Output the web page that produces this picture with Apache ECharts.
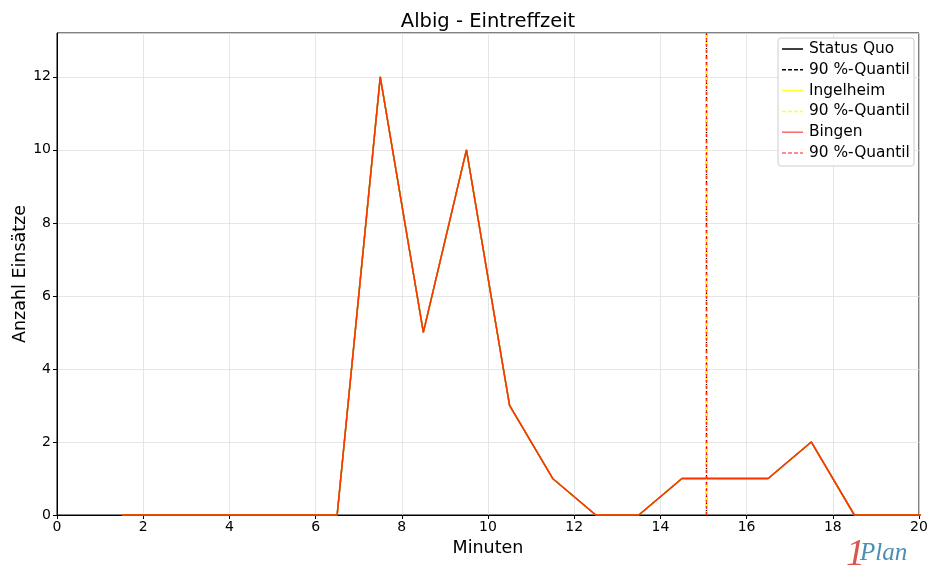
<!DOCTYPE html>
<html><head><meta charset="utf-8">
<script src="https://cdn.jsdelivr.net/npm/echarts@6/dist/echarts.min.js"></script>
<style>html,body{margin:0;padding:0;background:#fff}#c{width:930px;height:583px}</style>
</head><body><div id="c"></div>
<script>
const minutes = [1.5,2.5,3.5,4.5,5.5,6.5,7.5,8.5,9.5,10.5,11.5,12.5,13.5,14.5,15.5,16.5,17.5,18.5,19.5,20.5];
const statusQuo = [0,0,0,0,0,0,12,5,10,3,1,0,0,1,1,1,2,0,0,0];
const ingelheim = [0,0,0,0,0,0,12,5,10,3,1,0,0,1,1,1,2,0,0,0];
const bingen    = [0,0,0,0,0,0,12,5,10,3,1,0,0,1,1,1,2,0,0,0];
const quantileSQ = 15.07, quantileIng = 15.07, quantileBin = 15.07;
const legendLabels = ['Status Quo','90 %-Quantil','Ingelheim','90 %-Quantil','Bingen','90 %-Quantil'];

const font = 'DejaVu Sans';
const chart = echarts.init(document.getElementById('c'));
const pair = (xs, ys) => xs.map((x,i)=>[x, ys[i]]);
function mk(name, ys, color, q, op, dash){
  return {
    name, type:'line', data: pair(minutes, ys), symbol:'none', clip:true,
    lineStyle:{color, width:1.5, opacity:op}, z: 3,
    markLine:{symbol:'none', silent:true, label:{show:false},
      lineStyle:{color, type:dash, width:1.3, opacity:op},
      data:[{xAxis:q}]}
  };
}
const legendColors = [['#000',0],['#000',1],['#ffff33',0],['#ffff33',1],['#ff6666',0],['#ff6666',1]];
const graphics = [
  {type:'rect', shape:{x:778,y:38,width:136,height:128,r:3}, style:{fill:'rgba(255,255,255,0.85)',stroke:'#ccc',lineWidth:1}, z:10},
  {type:'text', x:488, y:22, style:{text:'Albig - Eintreffzeit', font:'19.5px "'+font+'"', fill:'#000', textAlign:'center', textVerticalAlign:'middle'}, z:11}
];
legendLabels.forEach((t,i)=>{
  const y = 49 + i*20.8;
  graphics.push({type:'line', shape:{x1:782,y1:y,x2:803,y2:y}, style:{stroke:legendColors[i][0], lineWidth:1.5, lineDash: legendColors[i][1]?[4,2]:null}, z:11});
  graphics.push({type:'text', x:809, y:y, style:{text:t, font:'15.4px "'+font+'"', fill:'#000', textVerticalAlign:'middle'}, z:11});
});
graphics.push({type:'text', x:846, y:536, style:{text:'1', font:'italic 38px "Liberation Serif"', fill:'#d9574a'}, z:11});
graphics.push({type:'text', x:860, y:541, style:{text:'Plan', font:'italic 25px "Liberation Serif"', fill:'#4a8fb5'}, z:11});

chart.setOption({
  animation:false,
  grid:{left:57, right:11, top:33, bottom:68, show:true, borderColor:'#000', borderWidth:1, containLabel:false, outerBoundsMode:'none'},
  xAxis:{type:'value', min:0, max:20, interval:2, name:'Minuten', nameLocation:'middle', nameGap:24, nameMoveOverlap:false,
    nameTextStyle:{fontFamily:font, fontSize:17.5, color:'#000'},
    axisLine:{show:true, lineStyle:{color:'#000'}}, axisTick:{show:true, length:4, lineStyle:{color:'#000'}},
    axisLabel:{fontFamily:font, fontSize:14, color:'#000', margin:5},
    splitLine:{show:true, lineStyle:{color:'#e0e0e0', width:0.8}}},
  yAxis:{type:'value', min:0, max:13.2, interval:2, name:'Anzahl Einsätze', nameLocation:'middle', nameGap:28, nameMoveOverlap:false,
    nameTextStyle:{fontFamily:font, fontSize:17.5, color:'#000'},
    axisLine:{show:true, lineStyle:{color:'#000'}}, axisTick:{show:true, length:4, lineStyle:{color:'#000'}},
    axisLabel:{fontFamily:font, fontSize:14, color:'#000', margin:6, showMaxLabel:false,
      formatter:v=> (v%2===0? String(v):'')},
    splitLine:{show:true, lineStyle:{color:'#e0e0e0', width:0.8}}},
  graphic: graphics,
  series:[
    mk('Status Quo', statusQuo, '#000000', quantileSQ, 1, [5,2]),
    mk('Ingelheim', ingelheim, '#ffff00', quantileIng, 1, [4,3]),
    mk('Bingen', bingen, '#ff0000', quantileBin, 0.8, [3,3])
  ]
});
</script></body></html>
